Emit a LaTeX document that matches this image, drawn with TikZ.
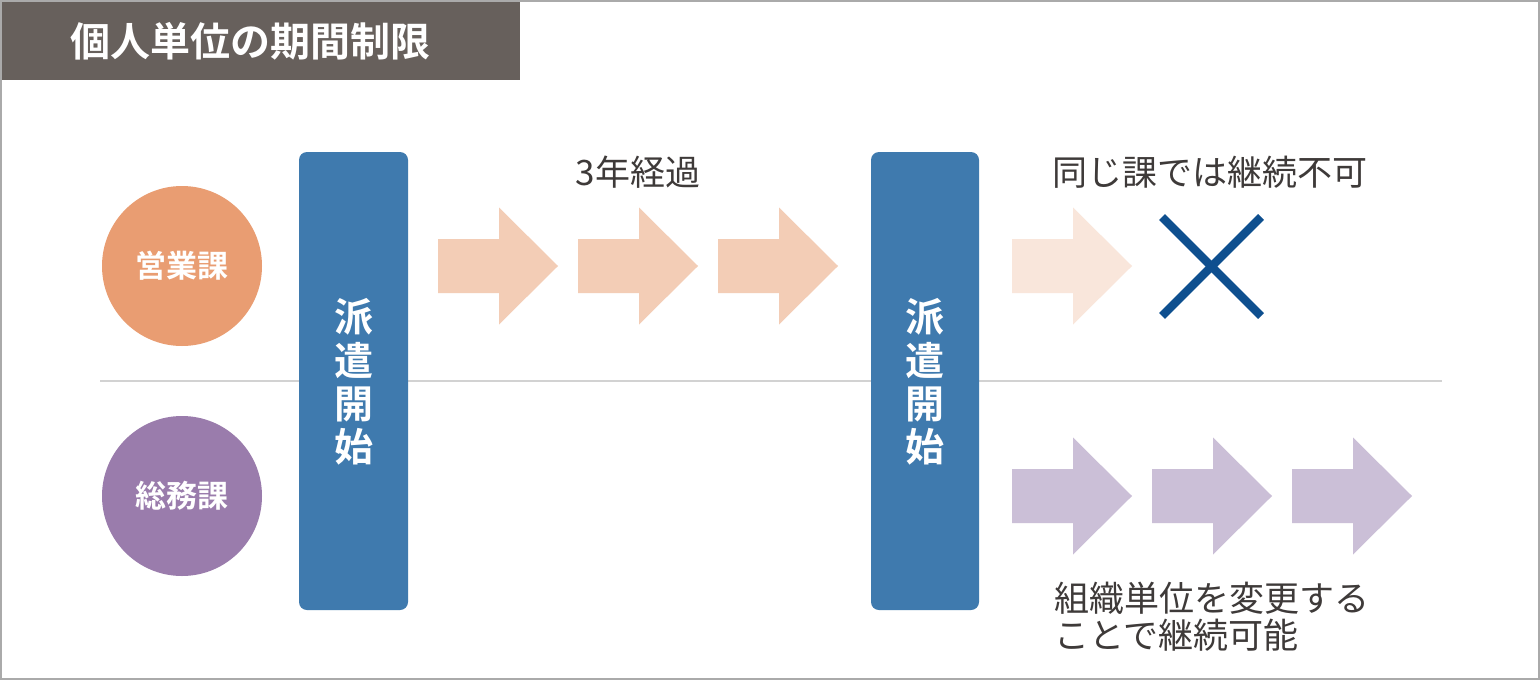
\documentclass[tikz,border=0pt]{standalone}
\usepackage{fontspec}
\newfontfamily\jp{Noto Sans CJK JP}
\newfontfamily\jpb{Noto Sans CJK JP Bold}
\definecolor{titlebg}{HTML}{67605C}
\definecolor{frame}{HTML}{AAAAAA}
\definecolor{orangec}{HTML}{E99D72}
\definecolor{purplec}{HTML}{9A7CAC}
\definecolor{barblue}{HTML}{3F7AAE}
\definecolor{peach}{HTML}{F3CDB6}
\definecolor{peachlight}{HTML}{F9E6DB}
\definecolor{lilac}{HTML}{CBBFD7}
\definecolor{crossblue}{HTML}{0E4F8F}
\definecolor{txt}{HTML}{3E3A39}
\definecolor{sepline}{HTML}{D2D2D2}
\newcommand{\bigarrow}[3]{%
  \fill[#3] (#1,#2-27) -- (#1+61,#2-27) -- (#1+61,#2-58.5) -- (#1+120,#2) -- (#1+61,#2+58.5) -- (#1+61,#2+27) -- (#1,#2+27) -- cycle;}
\begin{document}
\begin{tikzpicture}[x=0.5pt,y=-0.5pt,
  dept/.style={circle,minimum size=80pt,inner sep=0pt,text=white,font=\jpb\fontsize{15.5pt}{17pt}\selectfont},
  bar/.style={fill=barblue,rounded corners=4pt,draw=none},
  bartext/.style={text=white,align=center,font=\jpb\fontsize{19.5pt}{21.6pt}\selectfont},
  label/.style={text=txt,font=\jp\fontsize{17.5pt}{18.5pt}\selectfont,inner sep=0pt}]
\useasboundingbox (0,0) rectangle (1540,680);
\fill[white] (0,0) rectangle (1540,680);
% separator
\draw[sepline,line width=1pt] (100,381) -- (1442,381);
% title
\fill[titlebg] (0,0) rectangle (520,80);
\node[anchor=west,text=white,font=\jpb\fontsize{20pt}{22pt}\selectfont,inner sep=0pt] (title) at (70,41) {個人単位の期間制限};
% circles
\node[dept,fill=orangec] (eigyo) at (182,266) {営業課};
\node[dept,fill=purplec] (somu) at (182,496) {総務課};
% bars
\fill[bar] (299,152) rectangle (408,610);
\fill[bar] (871,152) rectangle (979,610);
\node[bartext] (start1) at (353.5,382) {派\\遣\\開\\始};
\node[bartext] (start2) at (925,382) {派\\遣\\開\\始};
% arrows top
\bigarrow{438}{266}{peach}
\bigarrow{578}{266}{peach}
\bigarrow{718}{266}{peach}
\bigarrow{1012}{266}{peachlight}
% arrows bottom
\bigarrow{1012}{496}{lilac}
\bigarrow{1152}{496}{lilac}
\bigarrow{1292}{496}{lilac}
% cross
\coordinate (c1) at (1162,217);
\coordinate (c2) at (1261,316);
\coordinate (c3) at (1261,217);
\coordinate (c4) at (1162,316);
\draw[crossblue,line width=4.2pt] (c1) -- (c2);
\draw[crossblue,line width=4.2pt] (c3) -- (c4);
% labels
\node[label] (l3y) at (638,172) {3年経過};
\node[label,anchor=west] (lno) at (1052,172) {同じ課では継続不可};
\node[label,anchor=north west,align=left,font=\jp\fontsize{17.5pt}{18.5pt}\selectfont] (lok) at (1054,582) {組織単位を変更する\\ことで継続可能};
% frame
\draw[frame,line width=1.2pt] (1,1) rectangle (1539,679);
\end{tikzpicture}
\end{document}
